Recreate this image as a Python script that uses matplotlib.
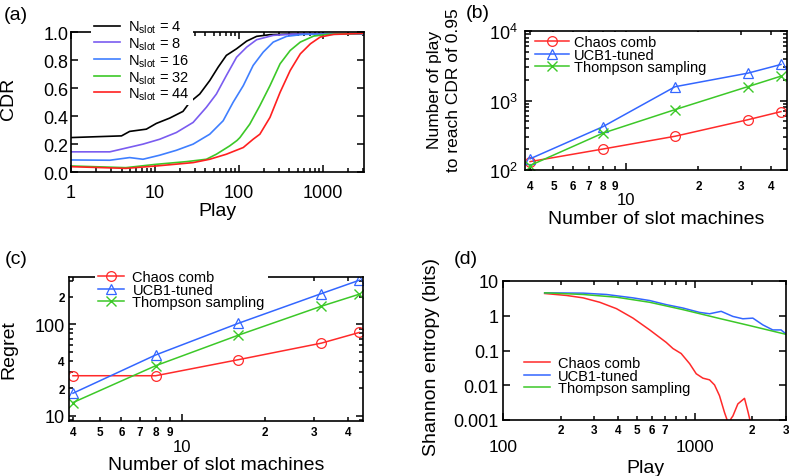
import numpy as np
import matplotlib
matplotlib.use("Agg")
import matplotlib.pyplot as plt
from matplotlib.ticker import FuncFormatter, LogLocator, NullLocator

plt.rcParams['font.family'] = ['Liberation Sans', 'DejaVu Sans']
plt.rcParams['mathtext.fontset'] = 'custom'
plt.rcParams['mathtext.rm'] = 'Liberation Sans'

# ---- (a) CDR vs play ----
cdr_labels = ["4", "8", "16", "32", "44"]
cdr_colors = ['black', '#7a5cf0', '#3f7fff', '#3cc828', '#ff2020']
play_n4 = [1, 4.0, 5, 7.9, 10.4, 15, 21.6, 26, 34.2, 45, 56.7, 71, 93.8, 124, 163, 235, 400, 3000]
cdr_n4 = [0.246, 0.258, 0.29, 0.306, 0.347, 0.385, 0.433, 0.498, 0.557, 0.653, 0.749, 0.833, 0.88, 0.935, 0.969, 0.981, 0.985, 0.985]
play_n8 = [1, 2.9, 7.2, 11.4, 18, 28.5, 41, 54, 71, 94, 124, 163, 257, 446, 3000]
cdr_n8 = [0.144, 0.144, 0.199, 0.234, 0.282, 0.354, 0.462, 0.557, 0.689, 0.82, 0.892, 0.945, 0.976, 0.985, 0.985]
play_n16 = [1, 2.9, 5, 7.2, 11.4, 18, 28.5, 45, 65, 85.5, 113, 148, 195, 257, 371, 589, 3000]
cdr_n16 = [0.086, 0.084, 0.103, 0.091, 0.12, 0.155, 0.199, 0.27, 0.366, 0.498, 0.617, 0.761, 0.856, 0.928, 0.969, 0.983, 0.985]
play_n32 = [1, 4.5, 10.4, 23.7, 41, 54, 78, 95, 103, 135, 178, 235, 310, 409, 540, 780, 1130, 3000]
cdr_n32 = [0.043, 0.031, 0.055, 0.074, 0.091, 0.127, 0.187, 0.225, 0.246, 0.342, 0.474, 0.617, 0.773, 0.868, 0.928, 0.971, 0.983, 0.99]
play_n44 = [1, 4.5, 10.4, 28.5, 45, 71, 113, 148, 178, 235, 310, 409, 540, 713, 933, 1350, 3000]
cdr_n44 = [0.038, 0.026, 0.043, 0.067, 0.091, 0.127, 0.175, 0.234, 0.27, 0.39, 0.569, 0.725, 0.844, 0.916, 0.964, 0.983, 0.99]

# ---- (b), (c) vs number of slot machines ----
n_slots = [4, 8, 16, 32, 44]
methods = ["Chaos comb", "UCB1-tuned", "Thompson sampling"]
plays_chaos = [132, 200, 306, 528, 692]
plays_ucb = [145, 418, 1580, 2470, 3300]
plays_ts = [116, 338, 740, 1580, 2240]
regret_chaos = [27.5, 27.5, 41.2, 62.4, 81.7]
regret_ucb = [17.7, 46.4, 103, 217, 304]
regret_ts = [14.0, 35.4, 76.4, 158, 214]

# ---- (d) Shannon entropy vs play ----
ent_play_chaos = [165, 215, 262, 320, 391, 477, 583, 711, 771, 851, 942, 1020, 1105, 1197, 1271,
                  1349, 1433, 1470, 1510, 1550, 1584, 1682, 1822, 1896, 1950, 1990]
ent_chaos = [4.37, 3.83, 3.27, 2.44, 1.60, 0.855, 0.391, 0.171, 0.114, 0.0818, 0.0418, 0.0214, 0.016,
             0.0143, 0.0102, 0.005, 0.00164, 0.0011, 0.0006, 0.0011, 0.0013, 0.0029, 0.0042, 0.0018,
             0.00094, 0.0005]
ent_play_ucb = [165, 262, 347, 477, 583, 711, 869, 1061, 1197, 1376, 1584, 1786, 2014, 2270, 2559, 2827, 3000]
ent_ucb = [4.57, 4.47, 4.09, 3.27, 2.74, 2.09, 1.67, 1.25, 1.14, 1.34, 0.957, 0.818, 0.855, 0.547, 0.391, 0.391, 0.299]
ent_play_ts = [165, 262, 391, 583, 869, 1324, 1935, 3000]
ent_ts = [4.57, 4.09, 3.42, 2.44, 1.50, 0.855, 0.522, 0.292]

# tick labels
slot_minor_labels = [4, 5, 6, 7, 8, 9, 20, 30, 40]
regret_minor_labels = [20, 40, 200]
play_minor_labels = [200, 300, 400, 500, 600, 700, 2000, 3000]

red = '#ff2a2a'
blue = '#3366ff'
green = '#3cc828'

W, H = 789, 477
fig = plt.figure(figsize=(W / 100, H / 100), dpi=100)


def box(l, r, t, b):
    return [l / W, 1 - b / H, (r - l) / W, (b - t) / H]


def style(ax):
    for s in ax.spines.values():
        s.set_linewidth(1.2)
    for axis in [ax.xaxis, ax.yaxis]:
        if axis.get_scale() == 'log':
            axis.set_major_locator(LogLocator(base=10, numticks=20))
            axis.set_minor_locator(LogLocator(base=10, subs=np.arange(2, 10), numticks=20))
    ax.tick_params(which='both', direction='in', top=True, right=True, width=1.1)
    ax.tick_params(which='major', length=5, labelsize=13)
    ax.tick_params(which='minor', length=3)


def minor_fmt(values):
    def f(v, p):
        for w in values:
            if abs(v - w) < 1e-6 * w:
                return str(int(round(w / 10 ** np.floor(np.log10(w)))))
        return ""
    return FuncFormatter(f)


plain = FuncFormatter(lambda v, p: f"{v:g}")


def label_text(ax, which, x, y):
    lab = ax.xaxis.label if which == 'x' else ax.yaxis.label
    lab.set_verticalalignment('center')
    (ax.xaxis if which == 'x' else ax.yaxis).set_label_coords(x / W, 1 - y / H, transform=fig.transFigure)


# (a)
ax1 = fig.add_axes(box(71, 364, 33, 173))
for px, cy, lab, c in zip([play_n4, play_n8, play_n16, play_n32, play_n44],
                          [cdr_n4, cdr_n8, cdr_n16, cdr_n32, cdr_n44], cdr_labels, cdr_colors):
    ax1.plot(px, cy, color=c, lw=1.2, label=r"N$_\mathrm{slot}$ = " + lab)
ax1.set_xscale('log')
ax1.set_xlim(1, 3100)
ax1.set_ylim(0, 1.0)
style(ax1)
ax1.set_yticks([0, 0.2, 0.4, 0.6, 0.8, 1.0])
ax1.yaxis.set_major_formatter(FuncFormatter(lambda v, p: f"{v:.1f}"))
ax1.xaxis.set_major_formatter(plain)
ax1.xaxis.set_minor_formatter(FuncFormatter(lambda v, p: ""))
ax1.tick_params(axis='x', which='major', pad=8.5)
ax1.tick_params(axis='y', pad=2)
ax1.set_xlabel("Play", fontsize=14)
ax1.set_ylabel("CDR", fontsize=14)
label_text(ax1, 'x', 217, 212)
label_text(ax1, 'y', 9, 99)
ax1.legend(loc='upper left', bbox_to_anchor=(84 / W, 1 - 9.5 / H), bbox_transform=fig.transFigure,
           fontsize=10.5, frameon=True, facecolor='white', edgecolor='none', framealpha=1,
           fancybox=False, borderpad=0.2, handlelength=1.8, handletextpad=0.55, labelspacing=0.0)

# (b)
ax2 = fig.add_axes(box(525, 787, 32, 171))
ax2.plot(n_slots, plays_chaos, color=red, lw=1.1, marker='o', ms=7, mfc='none', mew=0.9, label=methods[0])
ax2.plot(n_slots, plays_ucb, color=blue, lw=1.1, marker='^', ms=7.5, mfc='none', mew=0.9, label=methods[1])
ax2.plot(n_slots, plays_ts, color=green, lw=1.1, marker='x', ms=7, mew=1.0, label=methods[2])
ax2.set_xscale('log')
ax2.set_yscale('log')
ax2.set_xlim(3.81, 46.6)
ax2.set_ylim(100, 10000)
style(ax2)
ax2.xaxis.set_major_formatter(plain)
ax2.xaxis.set_minor_formatter(minor_fmt(slot_minor_labels))
ax2.tick_params(axis='x', which='major', pad=16, labelsize=12)
ax2.tick_params(axis='x', which='minor', pad=7.5, labelsize=8.5)
ax2.tick_params(axis='y', pad=5)
for t in ax2.xaxis.get_minorticklabels():
    t.set_fontweight('bold')
ax2.set_xlabel("Number of slot machines", fontsize=14)
ax2.set_ylabel("Number of play\nto reach CDR of 0.95", fontsize=12.5, linespacing=1.4)
label_text(ax2, 'x', 656, 219)
label_text(ax2, 'y', 444, 90)
ax2.legend(loc='upper left', bbox_to_anchor=(525 / W, 1 - 26 / H), bbox_transform=fig.transFigure,
           fontsize=10.5, frameon=True, facecolor='white', edgecolor='none', framealpha=1,
           fancybox=False, borderpad=0.2, handlelength=2.3, handletextpad=0.35, labelspacing=-0.1)

# (c)
ax3 = fig.add_axes(box(69, 363, 278, 422))
ax3.plot(n_slots, regret_chaos, color=red, lw=1.1, marker='o', ms=7, mfc='none', mew=0.9, label=methods[0])
ax3.plot(n_slots, regret_ucb, color=blue, lw=1.1, marker='^', ms=7.5, mfc='none', mew=0.9, label=methods[1])
ax3.plot(n_slots, regret_ts, color=green, lw=1.1, marker='x', ms=7, mew=1.0, label=methods[2])
ax3.set_xscale('log')
ax3.set_yscale('log')
ax3.set_xlim(3.87, 45.4)
ax3.set_ylim(8.8, 330)
style(ax3)
ax3.xaxis.set_major_formatter(plain)
ax3.xaxis.set_minor_formatter(minor_fmt(slot_minor_labels))
ax3.yaxis.set_major_formatter(plain)
ax3.yaxis.set_minor_formatter(minor_fmt(regret_minor_labels))
ax3.tick_params(axis='x', which='major', pad=13, labelsize=12)
ax3.tick_params(axis='x', which='minor', pad=3.5, labelsize=8.5)
ax3.tick_params(axis='y', which='major', pad=3)
ax3.tick_params(axis='y', which='minor', pad=3, labelsize=8.5)
for t in ax3.xaxis.get_minorticklabels() + ax3.yaxis.get_minorticklabels():
    t.set_fontweight('bold')
ax3.set_xlabel("Number of slot machines", fontsize=14)
ax3.set_ylabel("Regret", fontsize=14)
label_text(ax3, 'x', 216, 466)
label_text(ax3, 'y', 9, 350)
ax3.legend(loc='upper left', bbox_to_anchor=(88 / W, 1 - 261 / H), bbox_transform=fig.transFigure,
           fontsize=10.5, frameon=True, facecolor='white', edgecolor='none', framealpha=1,
           fancybox=False, borderpad=0.2, handlelength=1.8, handletextpad=0.55, labelspacing=-0.1)

# (d)
ax4 = fig.add_axes(box(503, 786, 282, 421))
ax4.plot(ent_play_chaos, ent_chaos, color=red, lw=1.1, label=methods[0])
ax4.plot(ent_play_ucb, ent_ucb, color=blue, lw=1.1, label=methods[1])
ax4.plot(ent_play_ts, ent_ts, color=green, lw=1.1, label=methods[2])
ax4.set_xscale('log')
ax4.set_yscale('log')
ax4.set_xlim(100, 3000)
ax4.set_ylim(0.001, 10)
style(ax4)
ax4.yaxis.set_minor_locator(NullLocator())
ax4.xaxis.set_major_formatter(plain)
ax4.xaxis.set_minor_formatter(minor_fmt(play_minor_labels))
ax4.yaxis.set_major_formatter(plain)
ax4.tick_params(axis='x', which='major', pad=14, labelsize=12.5)
ax4.tick_params(axis='x', which='minor', pad=3, labelsize=8.5)
ax4.tick_params(axis='y', pad=3)
for t in ax4.xaxis.get_minorticklabels():
    t.set_fontweight('bold')
ax4.set_xlabel("Play", fontsize=14)
ax4.set_ylabel("Shannon entropy (bits)", fontsize=14)
label_text(ax4, 'x', 645, 469)
label_text(ax4, 'y', 431, 357)
ax4.legend(loc='lower left', bbox_to_anchor=(514 / W, 1 - 406.5 / H), bbox_transform=fig.transFigure,
           fontsize=10.5, frameon=False, borderpad=0.2, handlelength=1.8, handletextpad=0.5,
           labelspacing=-0.1)

for s, x, y in [("(a)", 16, 16), ("(b)", 478, 13), ("(c)", 16, 259), ("(d)", 466, 259)]:
    fig.text(x / W, 1 - y / H, s, fontsize=14, ha='center', va='center')

fig.savefig("out.png", dpi=100)
